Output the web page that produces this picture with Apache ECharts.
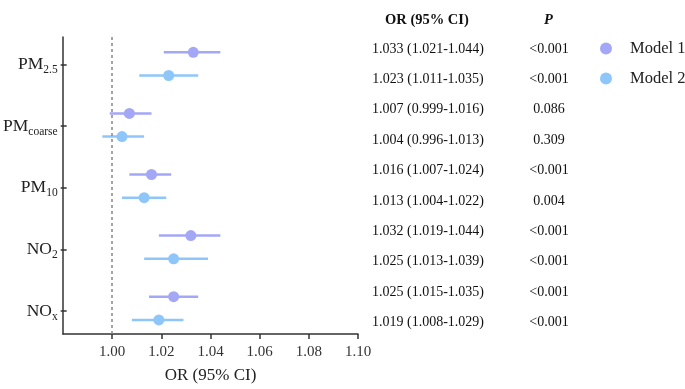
<!DOCTYPE html>
<html>
<head>
<meta charset="utf-8">
<script src="https://cdn.jsdelivr.net/npm/echarts@6/dist/echarts.min.js"></script>
<style>
  html, body { margin: 0; padding: 0; background: #fff; }
  #main { width: 685px; height: 389px; }
</style>
</head>
<body>
<div id="main"></div>
<script>
// pollutants, top to bottom
var pollutants = ['PM2.5', 'PMcoarse', 'PM10', 'NO2', 'NOx'];
var subs = { 'PM2.5': ['PM', '2.5'], 'PMcoarse': ['PM', 'coarse'], 'PM10': ['PM', '10'], 'NO2': ['NO', '2'], 'NOx': ['NO', 'x'] };

// OR and 95% CI, one entry per pollutant
var m1_or = [1.033, 1.007, 1.016, 1.032, 1.025];
var m1_lo = [1.021, 0.999, 1.007, 1.019, 1.015];
var m1_hi = [1.044, 1.016, 1.024, 1.044, 1.035];
var m1_p = ['<0.001', '0.086', '<0.001', '<0.001', '<0.001'];

var m2_or = [1.023, 1.004, 1.013, 1.025, 1.019];
var m2_lo = [1.011, 0.996, 1.004, 1.013, 1.008];
var m2_hi = [1.035, 1.013, 1.022, 1.039, 1.029];
var m2_p = ['<0.001', '0.309', '0.004', '<0.001', '<0.001'];

var xTicks = [1.00, 1.02, 1.04, 1.06, 1.08, 1.10];

var c1 = '#a4a7f6', c2 = '#8fc6fa';
var serif = '"Liberation Serif", "DejaVu Serif", serif';

function build(or, lo, hi, off) {
  var out = [];
  for (var i = 0; i < or.length; i++) out.push([or[i], lo[i], hi[i], i + off]);
  return out;
}

function renderCI(params, api) {
  var y = api.value(3);
  var a = api.coord([api.value(1), y]);
  var b = api.coord([api.value(2), y]);
  var c = api.coord([api.value(0), y]);
  var col = api.visual('color');
  return {
    type: 'group',
    children: [
      { type: 'line', shape: { x1: a[0], y1: a[1], x2: b[0], y2: b[1] }, style: { stroke: col, lineWidth: 2.5 } },
      { type: 'circle', shape: { cx: c[0], cy: c[1], r: 5.5 }, style: { fill: col } }
    ]
  };
}

// table on the right
var graphics = [
  { type: 'text', left: 385, top: 13, style: { text: 'OR (95% CI)', font: 'bold 14.5px ' + serif, fill: '#111' } },
  { type: 'text', left: 544, top: 13, style: { text: 'P', font: 'italic bold 14.5px ' + serif, fill: '#111' } }
];
function fmt(o, l, h) { return o.toFixed(3) + ' (' + l.toFixed(3) + '-' + h.toFixed(3) + ')'; }
for (var i = 0; i < pollutants.length; i++) {
  var rows = [[fmt(m1_or[i], m1_lo[i], m1_hi[i]), m1_p[i]], [fmt(m2_or[i], m2_lo[i], m2_hi[i]), m2_p[i]]];
  for (var j = 0; j < 2; j++) {
    var yy = 49 + (i * 2 + j) * 30.4;
    graphics.push({ type: 'text', x: 428, y: yy, style: { text: rows[j][0], font: '14px ' + serif, fill: '#111', align: 'center', verticalAlign: 'middle' } });
    graphics.push({ type: 'text', x: 549, y: yy, style: { text: rows[j][1], font: '14px ' + serif, fill: '#111', align: 'center', verticalAlign: 'middle' } });
  }
}

var chart = echarts.init(document.getElementById('main'));
var option = {
  backgroundColor: '#fff',
  animation: false,
  color: [c1, c2],
  legend: {
    data: [{ name: 'Model 1', icon: 'circle' }, { name: 'Model 2', icon: 'circle' }],
    orient: 'vertical',
    left: 595,
    top: 35,
    itemWidth: 38,
    itemHeight: 12,
    itemGap: 13,
    textStyle: { fontFamily: serif, fontSize: 16.5, color: '#222' }
  },
  grid: [
    { left: 63, right: 327, top: 37, bottom: 52 },
    { left: 63, right: 327, top: 33.5, bottom: 47 }
  ],
  xAxis: [
    {
      gridIndex: 0, type: 'value', min: 0.98, max: 1.10,
      axisLine: { onZero: false, lineStyle: { color: '#333', width: 1.5 } },
      axisTick: { show: true, length: 5, customValues: xTicks, lineStyle: { color: '#333', width: 1.5 } },
      axisLabel: {
        margin: 11, fontFamily: serif, fontSize: 15, color: '#333', customValues: xTicks,
        formatter: function (v) { return v.toFixed(2); }
      },
      splitLine: { show: false },
      name: 'OR (95% CI)', nameLocation: 'middle', nameGap: 33,
      nameTextStyle: { fontFamily: serif, fontSize: 17, color: '#222' }
    },
    { gridIndex: 1, type: 'value', show: false, min: 0.98, max: 1.10 }
  ],
  yAxis: [
    {
      gridIndex: 0, type: 'value', inverse: true, min: -0.44, max: 4.42,
      axisLine: { show: true, onZero: false, lineStyle: { color: '#333', width: 1.5 } },
      axisTick: { show: false }, axisLabel: { show: false }, splitLine: { show: false }
    },
    {
      gridIndex: 1, type: 'category', inverse: true, data: pollutants,
      axisLine: { show: false },
      axisTick: { show: true, alignWithLabel: true, length: 6, lineStyle: { color: '#333', width: 1.5 } },
      axisLabel: {
        margin: 9,
        formatter: function (v) { return '{m|' + subs[v][0] + '}{s|' + subs[v][1] + '}'; },
        rich: {
          m: { fontFamily: serif, fontSize: 17.5, color: '#222' },
          s: { fontFamily: serif, fontSize: 11.5, color: '#222', padding: [11, 0, 0, 0] }
        }
      }
    }
  ],
  graphic: graphics,
  series: [
    {
      name: 'Model 1', type: 'custom', xAxisIndex: 0, yAxisIndex: 0,
      itemStyle: { color: c1 },
      renderItem: renderCI, encode: { x: [0, 1, 2], y: 3 },
      data: build(m1_or, m1_lo, m1_hi, -0.19),
      markLine: {
        silent: true, symbol: 'none', label: { show: false },
        lineStyle: { color: '#888', type: [3, 3], width: 1.5 },
        data: [{ xAxis: 1 }]
      }
    },
    {
      name: 'Model 2', type: 'custom', xAxisIndex: 0, yAxisIndex: 0,
      itemStyle: { color: c2 },
      renderItem: renderCI, encode: { x: [0, 1, 2], y: 3 },
      data: build(m2_or, m2_lo, m2_hi, 0.19)
    }
  ]
};
chart.setOption(option);
</script>
</body>
</html>
